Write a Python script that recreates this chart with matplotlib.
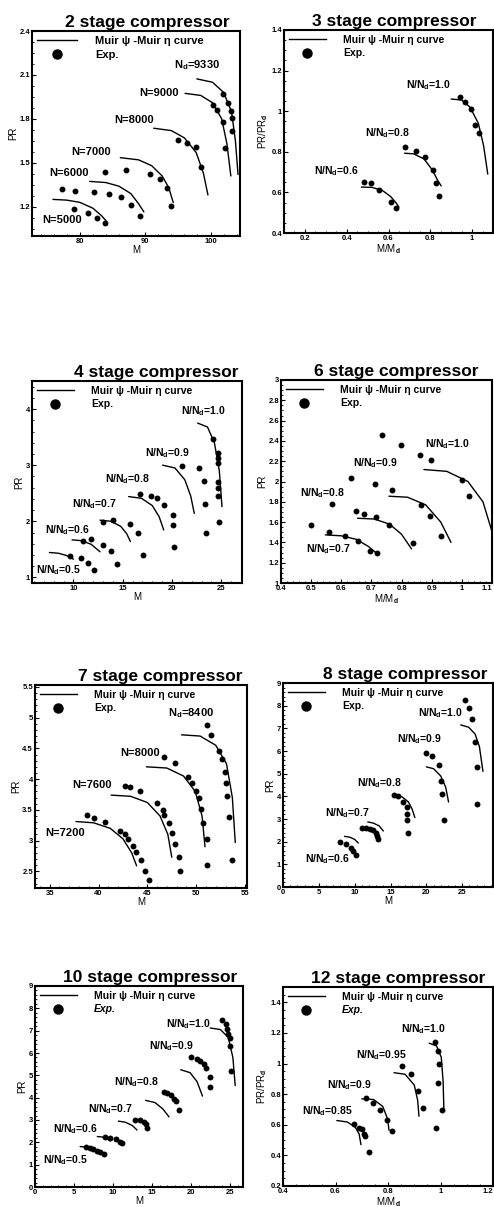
import matplotlib
matplotlib.use("Agg")
import matplotlib.pyplot as plt
from matplotlib import font_manager
from matplotlib.lines import Line2D

# ------------------------------------------------------------------ data
# 2 stage compressor
s2_names = ["N=5000", "N=6000", "N=7000", "N=8000", "N=9000", "N$_{\\rm d}$=9330"]
s2_curve_m = [[75.9, 78, 80, 82, 83.3, 84.1],
              [81.5, 84, 86, 87.8, 89, 89.8],
              [86.2, 89, 91, 92.6, 93.6, 94.3],
              [91.3, 94, 96, 97.8, 98.9, 99.6],
              [96.1, 98.5, 100.3, 101.7, 102.5, 103.1],
              [97.9, 100.3, 102, 103.2, 103.8, 104.2]]
s2_curve_pr = [[1.25, 1.245, 1.23, 1.19, 1.14, 1.10],
               [1.373, 1.365, 1.34, 1.29, 1.22, 1.165],
               [1.535, 1.52, 1.48, 1.41, 1.33, 1.228],
               [1.736, 1.72, 1.67, 1.57, 1.43, 1.28],
               [1.974, 1.96, 1.91, 1.80, 1.63, 1.41],
               [2.073, 2.05, 1.98, 1.85, 1.65, 1.42]]
s2_exp_m = [[79.1, 81.2, 82.6, 83.8],
            [77.3, 79.2, 82.2, 84.5, 86.3, 87.9, 89.2],
            [83.9, 87.1, 90.8, 92.3, 93.4, 93.9],
            [95.0, 96.4, 97.7, 98.5],
            [100.3, 101.0, 101.9, 102.2],
            [101.9, 102.7, 103.1, 103.3, 103.3]]
s2_exp_pr = [[1.186, 1.154, 1.126, 1.089],
             [1.32, 1.31, 1.30, 1.29, 1.265, 1.21, 1.14],
             [1.44, 1.45, 1.426, 1.39, 1.33, 1.207],
             [1.657, 1.634, 1.611, 1.47],
             [1.897, 1.858, 1.777, 1.60],
             [1.97, 1.91, 1.856, 1.805, 1.72]]
s2_xticks = [80, 90, 100]
s2_yticks = [1.2, 1.5, 1.8, 2.1, 2.4]

# 3 stage compressor
s3_names = ["N/N$_{\\rm d}$=0.6", "N/N$_{\\rm d}$=0.8", "N/N$_{\\rm d}$=1.0"]
s3_curve_m = [[0.47, 0.52, 0.57, 0.61, 0.635, 0.65],
              [0.677, 0.72, 0.77, 0.81, 0.835, 0.852],
              [0.9, 0.95, 0.99, 1.03, 1.055, 1.075]]
s3_curve_pr = [[0.626, 0.625, 0.61, 0.58, 0.55, 0.528],
               [0.793, 0.79, 0.765, 0.71, 0.66, 0.632],
               [1.06, 1.055, 1.02, 0.94, 0.83, 0.69]]
s3_exp_m = [[0.483, 0.518, 0.556, 0.614, 0.634],
            [0.68, 0.733, 0.773, 0.814, 0.828, 0.844],
            [0.94, 0.967, 0.995, 1.016, 1.032]]
s3_exp_pr = [[0.649, 0.644, 0.613, 0.554, 0.523],
             [0.826, 0.806, 0.776, 0.711, 0.645, 0.583],
             [1.068, 1.046, 1.01, 0.932, 0.891]]
s3_xticks = [0.2, 0.4, 0.6, 0.8, 1.0]
s3_yticks = [0.4, 0.6, 0.8, 1.0, 1.2, 1.4]

# 4 stage compressor
s4_names = ["N/N$_{\\rm d}$=0.5", "N/N$_{\\rm d}$=0.6", "N/N$_{\\rm d}$=0.7",
            "N/N$_{\\rm d}$=0.8", "N/N$_{\\rm d}$=0.9", "N/N$_{\\rm d}$=1.0"]
s4_curve_m = [[7.57, 8.5, 9.3, 10.0],
              [9.86, 10.8, 11.8, 12.7],
              [12.7, 13.8, 14.8, 15.4, 15.78],
              [15.6, 16.9, 18.0, 18.7, 19.16],
              [19.05, 20.3, 21.3, 21.9, 22.26],
              [22.6, 23.6, 24.3, 24.8, 25.07]]
s4_curve_pr = [[1.444, 1.43, 1.39, 1.325],
               [1.669, 1.655, 1.59, 1.456],
               [2.02, 2.0, 1.91, 1.78, 1.64],
               [2.44, 2.41, 2.28, 2.08, 1.846],
               [3.0, 2.95, 2.74, 2.45, 2.14],
               [3.75, 3.68, 3.4, 2.9, 2.26]]
s4_exp_m = [[9.7, 10.74, 11.45, 12.13],
            [10.95, 11.82, 12.97, 13.8, 14.4],
            [13.04, 14.05, 15.7, 16.6, 17.1],
            [16.76, 17.9, 18.5, 19.2, 20.07, 20.13, 20.24],
            [21.0, 22.7, 23.2, 23.3, 23.4],
            [24.12, 24.63, 24.7, 24.7, 24.63, 24.7, 24.7, 24.73]]
s4_exp_pr = [[1.39, 1.343, 1.254, 1.136],
             [1.657, 1.68, 1.58, 1.47, 1.24],
             [1.99, 2.02, 1.95, 1.80, 1.40],
             [2.49, 2.45, 2.41, 2.29, 2.12, 1.93, 1.55],
             [2.99, 2.95, 2.71, 2.31, 1.80],
             [3.46, 3.21, 3.12, 3.03, 2.70, 2.59, 2.45, 1.99]]
s4_xticks = [10, 15, 20, 25]
s4_yticks = [1, 2, 3, 4]

# 6 stage compressor
s6_names = ["N/N$_{\\rm d}$=0.7", "N/N$_{\\rm d}$=0.8", "N/N$_{\\rm d}$=0.9", "N/N$_{\\rm d}$=1.0"]
s6_curve_m = [[0.547, 0.6, 0.65, 0.69, 0.72],
              [0.654, 0.71, 0.76, 0.8, 0.833],
              [0.758, 0.82, 0.88, 0.93, 0.964],
              [0.874, 0.95, 1.02, 1.07, 1.099]]
s6_curve_pr = [[1.474, 1.465, 1.43, 1.36, 1.286],
               [1.638, 1.63, 1.58, 1.48, 1.336],
               [1.855, 1.845, 1.77, 1.6, 1.40],
               [2.118, 2.10, 2.0, 1.8, 1.516]]
s6_exp_m = [[0.5, 0.56, 0.611, 0.654, 0.696, 0.718],
            [0.569, 0.648, 0.677, 0.714, 0.758, 0.837],
            [0.633, 0.711, 0.769, 0.865, 0.893, 0.931],
            [0.734, 0.797, 0.86, 0.899, 1.0, 1.025]]
s6_exp_pr = [[1.572, 1.50, 1.46, 1.41, 1.319, 1.293],
             [1.78, 1.707, 1.68, 1.648, 1.572, 1.395],
             [2.036, 1.977, 1.921, 1.773, 1.664, 1.467],
             [2.454, 2.355, 2.266, 2.207, 2.01, 1.862]]
s6_xticks = [0.4, 0.5, 0.6, 0.7, 0.8, 0.9, 1.0, 1.1]
s6_yticks = [1.0, 1.2, 1.4, 1.6, 1.8, 2.0, 2.2, 2.4, 2.6, 2.8, 3.0]

# 7 stage compressor
s7_names = ["N=7200", "N=7600", "N=8000", "N$_{\\rm d}$=8400"]
s7_curve_m = [[37.7, 39.5, 41.2, 42.5, 43.4, 43.9],
              [41.3, 43.3, 45.0, 46.3, 47.1, 47.5],
              [44.9, 47.0, 48.7, 49.9, 50.6, 50.9],
              [48.5, 50.4, 52.0, 53.1, 53.7, 54.0]]
s7_curve_pr = [[3.31, 3.29, 3.2, 3.03, 2.8, 2.59],
               [3.74, 3.72, 3.62, 3.4, 3.1, 2.73],
               [4.2, 4.18, 4.05, 3.8, 3.4, 2.9],
               [4.72, 4.7, 4.55, 4.25, 3.7, 2.97]]
s7_exp_m = [[38.8, 39.5, 40.7, 42.25, 42.7, 43.0, 43.5, 43.8, 44.4, 44.8, 45.15],
            [42.7, 43.2, 44.2, 46.0, 46.6, 46.7, 47.2, 47.5, 47.8, 48.2, 48.3],
            [46.7, 47.8, 49.2, 49.6, 50.0, 50.3, 50.5, 50.7, 51.1, 51.1],
            [51.1, 51.5, 52.3, 52.6, 52.9, 53.0, 53.2, 53.4, 53.7]]
s7_exp_pr = [[3.42, 3.365, 3.3, 3.16, 3.105, 3.03, 2.905, 2.82, 2.68, 2.5, 2.354],
             [3.895, 3.87, 3.80, 3.61, 3.49, 3.41, 3.28, 3.13, 2.95, 2.74, 2.51],
             [4.36, 4.27, 4.04, 3.94, 3.80, 3.69, 3.52, 3.28, 3.02, 2.61],
             [4.88, 4.71, 4.46, 4.33, 4.12, 3.94, 3.72, 3.39, 2.68]]
s7_xticks = [35, 40, 45, 50, 55]
s7_yticks = [2.5, 3, 3.5, 4, 4.5, 5, 5.5]

# 8 stage compressor
s8_names = ["N/N$_{\\rm d}$=0.6", "N/N$_{\\rm d}$=0.7", "N/N$_{\\rm d}$=0.8",
            "N/N$_{\\rm d}$=0.9", "N/N$_{\\rm d}$=1.0"]
s8_curve_m = [[8.58, 9.3, 10.0, 10.5],
              [11.83, 12.6, 13.4, 14.0],
              [15.6, 16.6, 17.5, 18.0, 18.4],
              [20.0, 21.0, 22.0, 22.7, 23.1],
              [24.8, 25.9, 26.8, 27.4, 27.9]]
s8_curve_pr = [[2.235, 2.2, 2.1, 1.94],
               [2.87, 2.82, 2.7, 2.47],
               [4.04, 3.98, 3.75, 3.45, 3.06],
               [5.3, 5.22, 4.9, 4.4, 3.75],
               [7.15, 7.05, 6.75, 6.2, 5.1]]
s8_exp_m = [[7.98, 8.77, 9.5, 9.83, 10.2],
            [11.0, 11.55, 12.15, 12.6, 13.0, 13.17, 13.3],
            [15.5, 16.1, 16.8, 17.25, 17.35, 17.35, 17.4],
            [20.0, 20.8, 21.75, 22.0, 22.2, 22.4],
            [25.4, 25.9, 26.4, 26.85, 27.0, 27.0]]
s8_exp_pr = [[1.985, 1.91, 1.735, 1.59, 1.43],
             [2.62, 2.62, 2.57, 2.5, 2.38, 2.25, 2.1],
             [4.04, 4.0, 3.75, 3.53, 3.24, 2.97, 2.4],
             [5.93, 5.8, 5.37, 4.68, 4.09, 2.94],
             [8.24, 7.9, 7.43, 6.4, 5.29, 3.65]]
s8_xticks = [0, 5, 10, 15, 20, 25]
s8_yticks = [0, 1, 2, 3, 4, 5, 6, 7, 8, 9]

# 10 stage compressor
s10_names = ["N/N$_{\\rm d}$=0.5", "N/N$_{\\rm d}$=0.6", "N/N$_{\\rm d}$=0.7",
             "N/N$_{\\rm d}$=0.8", "N/N$_{\\rm d}$=0.9", "N/N$_{\\rm d}$=1.0"]
s10_curve_m = [[5.8, 6.5, 7.3, 7.9],
               [8.0, 8.6, 9.2, 9.66],
               [10.7, 11.6, 12.5, 13.1],
               [14.2, 15.4, 16.4, 17.2],
               [18.7, 19.9, 20.8, 21.5],
               [22.5, 23.8, 24.8, 25.4, 25.7]]
s10_curve_pr = [[1.81, 1.79, 1.7, 1.56],
                [2.26, 2.24, 2.17, 2.06],
                [2.95, 2.9, 2.75, 2.55],
                [3.88, 3.78, 3.5, 3.14],
                [5.25, 5.12, 4.72, 4.07],
                [7.12, 7.05, 6.7, 5.8, 4.54]]
s10_exp_m = [[6.57, 7.1, 7.5, 7.9, 8.37, 8.9],
             [9.0, 9.66, 10.4, 10.86, 11.2],
             [12.9, 13.5, 13.95, 14.2, 14.4],
             [16.5, 16.95, 17.4, 17.8, 18.1, 18.45],
             [20.0, 20.8, 21.2, 21.7, 22.0, 22.4, 22.5],
             [24.0, 24.5, 24.7, 24.8, 25.0, 25.0, 25.1]]
s10_exp_pr = [[1.77, 1.74, 1.70, 1.62, 1.55, 1.47],
              [2.23, 2.21, 2.15, 2.03, 1.96],
              [3.02, 3.0, 2.92, 2.8, 2.65],
              [4.25, 4.2, 4.1, 3.95, 3.83, 3.47],
              [5.8, 5.72, 5.62, 5.5, 5.31, 4.91, 4.5],
              [7.46, 7.32, 7.09, 6.87, 6.65, 6.31, 5.21]]
s10_xticks = [0, 5, 10, 15, 20, 25]
s10_yticks = [0, 1, 2, 3, 4, 5, 6, 7, 8, 9]

# 12 stage compressor
s12_names = ["N/N$_{\\rm d}$=0.85", "N/N$_{\\rm d}$=0.9", "N/N$_{\\rm d}$=0.95", "N/N$_{\\rm d}$=1.0"]
s12_curve_m = [[0.605, 0.645, 0.675, 0.69, 0.697],
               [0.70, 0.745, 0.78, 0.798, 0.804],
               [0.823, 0.865, 0.9, 0.913, 0.918],
               [0.957, 0.985, 1.003, 1.01, 1.013]]
s12_curve_pr = [[0.628, 0.618, 0.585, 0.54, 0.47],
                [0.769, 0.765, 0.72, 0.64, 0.564],
                [0.94, 0.93, 0.86, 0.76, 0.656],
                [1.133, 1.115, 1.04, 0.88, 0.692]]
s12_exp_m = [[0.672, 0.691, 0.70, 0.709, 0.713, 0.729],
             [0.715, 0.744, 0.77, 0.795, 0.814],
             [0.852, 0.886, 0.915, 0.934, 0.981],
             [0.978, 0.989, 0.995, 0.991, 1.004]]
s12_exp_pr = [[0.606, 0.581, 0.57, 0.542, 0.527, 0.42],
              [0.778, 0.741, 0.698, 0.63, 0.559],
              [0.983, 0.929, 0.82, 0.709, 0.576],
              [1.141, 1.079, 0.998, 0.87, 0.698]]
s12_xticks = [0.4, 0.6, 0.8, 1.0, 1.2]
s12_yticks = [0.2, 0.4, 0.6, 0.8, 1.0, 1.2, 1.4]

legend_labels = ["Muir \u03c8 -Muir \u03b7 curve", "Exp."]

# ------------------------------------------------------------------ style
def has_font(name):
    try:
        font_manager.findfont(font_manager.FontProperties(family=name),
                              fallback_to_default=False)
        return True
    except Exception:
        return False

BASE = "Liberation Sans"
TITLE_FONT = "Liberation Sans Narrow" if has_font("Liberation Sans Narrow") else BASE
TITLE_SIZE = 15 if TITLE_FONT != BASE else 12.5

plt.rcParams["font.family"] = [BASE, "DejaVu Sans"]
plt.rcParams["font.weight"] = "bold"
plt.rcParams["mathtext.fontset"] = "custom"
plt.rcParams["mathtext.rm"] = BASE + ":bold"
plt.rcParams["mathtext.it"] = BASE + ":bold"
plt.rcParams["mathtext.bf"] = BASE + ":bold"

W, H = 494, 1207
fig = plt.figure(figsize=(W / 100, H / 100), dpi=100)


def axes_px(left, right, top, bottom):
    return fig.add_axes([left / W, 1 - bottom / H, (right - left) / W, (bottom - top) / H])


def fmt(v):
    return f"{v:g}"


def panel(box, title, title_x, names, cm, cpr, em, epr, label_xy, label_size,
          xlim, ylim, xticks, yticks, xlabel, ylabel, leg_size, exp_italic=False,
          last_xtick_right=False):
    ax = axes_px(*box)
    for i in range(len(names)):
        ax.plot(cm[i], cpr[i], color="black", lw=1.0, solid_capstyle="round",
                solid_joinstyle="round")
        ax.scatter(em[i], epr[i], s=18, color="black", zorder=3, linewidths=0)
        ax.text(label_xy[i][0], label_xy[i][1], names[i], fontsize=label_size,
                fontweight="bold", ha="left", va="center")
    ax.set_xlim(*xlim)
    ax.set_ylim(*ylim)
    ax.set_xticks(xticks)
    xl = ax.set_xticklabels([fmt(v) for v in xticks])
    if last_xtick_right:
        xl[-1].set_horizontalalignment("right")
    ax.set_yticks(yticks)
    ax.set_yticklabels([fmt(v) for v in yticks])
    ax.minorticks_on()
    ax.tick_params(which="major", direction="in", length=3, width=0.8, labelsize=5.5, pad=1.5)
    ax.tick_params(which="minor", direction="in", length=1.5, width=0.6)
    ax.set_xlabel(xlabel, fontsize=7, labelpad=0)
    ax.set_ylabel(ylabel, fontsize=7, labelpad=1)
    for sp in ax.spines.values():
        sp.set_linewidth(1.5)
    lh = Line2D([], [], color="black", lw=1.0)
    dh = Line2D([], [], color="black", marker="o", ls="none", markersize=6.5)
    leg = ax.legend([lh, dh], legend_labels, loc="upper left", frameon=False,
                    fontsize=leg_size, handlelength=3.6, handletextpad=1.6,
                    borderaxespad=0.35, borderpad=0.1, labelspacing=0.35)
    for t in leg.get_texts():
        t.set_fontweight("bold")
    if exp_italic:
        leg.get_texts()[1].set_style("italic")
    ax.text(title_x, 1.006, title, transform=ax.transAxes, ha="center", va="bottom",
            fontsize=TITLE_SIZE, fontweight="bold", family=[TITLE_FONT, "DejaVu Sans"])
    return ax


panel((32, 240, 31, 236), "2 stage compressor", 0.555,
      s2_names, s2_curve_m, s2_curve_pr, s2_exp_m, s2_exp_pr,
      [(74.3, 1.112), (75.3, 1.431), (78.7, 1.574), (85.2, 1.789), (89.1, 1.98), (94.4, 2.17)], 8,
      (72.7, 104.5), (1.0, 2.4), s2_xticks, s2_yticks, "M", "PR", 8)

panel((284, 493, 30, 233), "3 stage compressor", 0.526,
      s3_names, s3_curve_m, s3_curve_pr, s3_exp_m, s3_exp_pr,
      [(0.245, 0.706), (0.486, 0.894), (0.682, 1.128)], 7.5,
      (0.1, 1.1), (0.4, 1.4), s3_xticks, s3_yticks, "M/M$_{\\rm d}$", "PR/PR$_{\\rm d}$", 7.5)

panel((32, 242, 381, 583), "4 stage compressor", 0.59,
      s4_names, s4_curve_m, s4_curve_pr, s4_exp_m, s4_exp_pr,
      [(6.22, 1.136), (7.16, 1.846), (9.86, 2.30), (13.24, 2.745), (17.3, 3.22), (20.9, 3.96)], 7.5,
      (5.8, 27.1), (0.9, 4.5), s4_xticks, s4_yticks, "M", "PR", 7.5)

panel((281, 492, 380, 583), "6 stage compressor", 0.545,
      s6_names, s6_curve_m, s6_curve_pr, s6_exp_m, s6_exp_pr,
      [(0.484, 1.336), (0.462, 1.885), (0.64, 2.18), (0.877, 2.37)], 7.5,
      (0.4, 1.1), (1.0, 3.0), s6_xticks, s6_yticks, "M/M$_{\\rm d}$", "PR", 7.5,
      last_xtick_right=True)

panel((35, 247, 685, 888), "7 stage compressor", 0.59,
      s7_names, s7_curve_m, s7_curve_pr, s7_exp_m, s7_exp_pr,
      [(34.6, 3.13), (37.3, 3.9), (42.2, 4.43), (47.1, 5.07)], 8,
      (33.5, 55.2), (2.23, 5.53), s7_xticks, s7_yticks, "M", "PR", 7.5)

panel((283, 493, 683, 887), "8 stage compressor", 0.58,
      s8_names, s8_curve_m, s8_curve_pr, s8_exp_m, s8_exp_pr,
      [(3.1, 1.25), (5.9, 3.24), (10.3, 4.59), (15.9, 6.54), (18.8, 7.68)], 7.5,
      (0, 29.3), (0, 9), s8_xticks, s8_yticks, "M", "PR", 7.5)

panel((35, 243, 986, 1187), "10 stage compressor", 0.555,
      s10_names, s10_curve_m, s10_curve_pr, s10_exp_m, s10_exp_pr,
      [(1.07, 1.2), (2.27, 2.58), (6.74, 3.47), (10.1, 4.69), (14.6, 6.31), (16.8, 7.3)], 7.5,
      (0, 26.7), (0, 9), s10_xticks, s10_yticks, "M", "PR", 7.5, exp_italic=True)

panel((283, 493, 987, 1186), "12 stage compressor", 0.548,
      s12_names, s12_curve_m, s12_curve_pr, s12_exp_m, s12_exp_pr,
      [(0.472, 0.692), (0.567, 0.859), (0.678, 1.056), (0.848, 1.227)], 7.5,
      (0.4, 1.2), (0.2, 1.5), s12_xticks, s12_yticks, "M/M$_{\\rm d}$", "PR/PR$_{\\rm d}$", 7.5,
      exp_italic=True, last_xtick_right=True)

fig.savefig("out.png", dpi=100)
